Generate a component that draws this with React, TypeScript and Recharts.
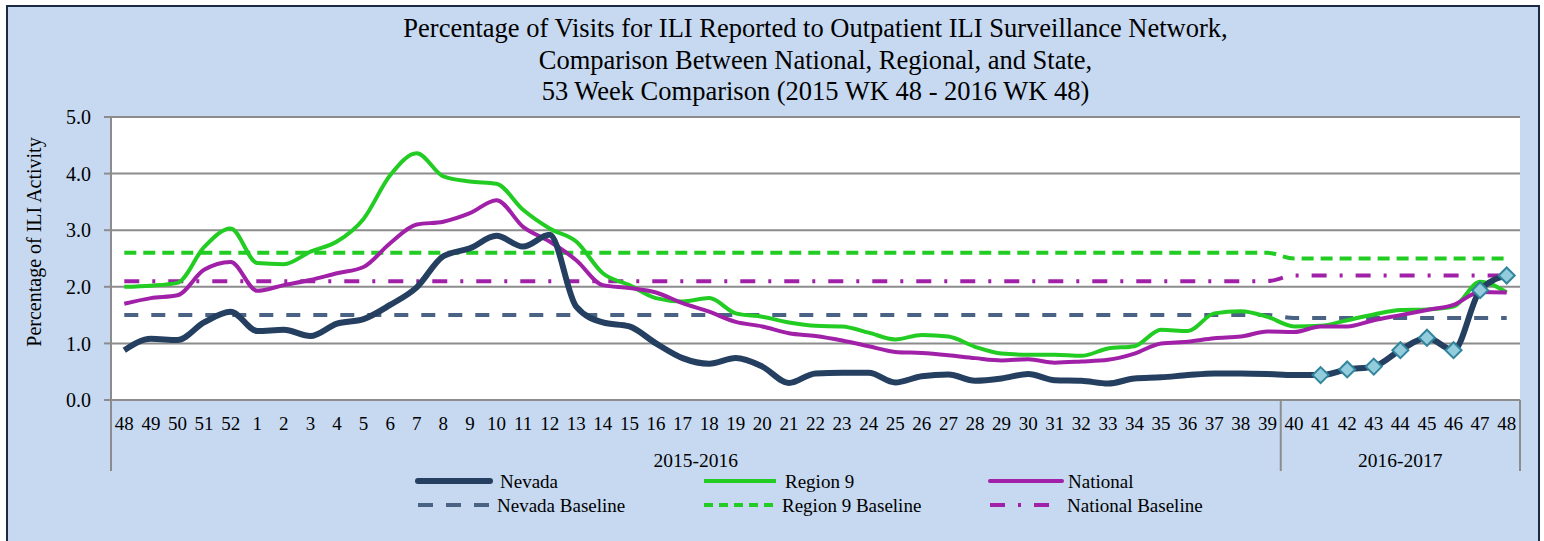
import React from "react";
import { LineChart, Line, XAxis, YAxis, CartesianGrid } from "recharts";

const weeks = [
  "48", "49", "50", "51", "52",
  "1", "2", "3", "4", "5", "6", "7", "8", "9", "10", "11", "12", "13", "14", "15", "16",
  "17", "18", "19", "20", "21", "22", "23", "24", "25", "26", "27", "28", "29", "30", "31",
  "32", "33", "34", "35", "36", "37", "38", "39",
  "40", "41", "42", "43", "44", "45", "46", "47", "48",
];
const seasons = ["2015-2016", "2016-2017"];
const seasonWeekCounts = [44, 9];

const nevada = [
  0.88, 1.08, 1.06, 1.37, 1.56,
  1.22, 1.24, 1.13, 1.35, 1.43, 1.68, 1.99, 2.54, 2.68, 2.9, 2.71, 2.92, 1.65, 1.37, 1.3, 1.0,
  0.74, 0.64, 0.74, 0.59, 0.3, 0.47, 0.48, 0.48, 0.31, 0.42, 0.45, 0.34, 0.38, 0.46, 0.35,
  0.34, 0.29, 0.38, 0.4, 0.44, 0.47, 0.47, 0.46,
  0.44, 0.44, 0.54, 0.59, 0.88, 1.1, 0.88, 1.94, 2.2,
];
const region9 = [
  2.0, 2.02, 2.07, 2.7, 3.03,
  2.42, 2.4, 2.62, 2.8, 3.2, 3.97, 4.36, 3.95, 3.86, 3.82, 3.36, 3.03, 2.8, 2.24, 2.03, 1.8,
  1.74, 1.8, 1.53, 1.47, 1.37, 1.31, 1.3, 1.19, 1.07, 1.15, 1.12, 0.94, 0.82, 0.8, 0.8,
  0.78, 0.91, 0.95, 1.24, 1.22, 1.53, 1.57, 1.47,
  1.3, 1.31, 1.41, 1.51, 1.59, 1.6, 1.65, 2.09, 1.9,
];
const national = [
  1.7, 1.8, 1.85, 2.3, 2.44,
  1.93, 2.03, 2.12, 2.24, 2.35, 2.77, 3.1, 3.15, 3.3, 3.53, 3.06, 2.8, 2.47, 2.03, 1.98, 1.9,
  1.71, 1.56, 1.38, 1.3, 1.18, 1.13, 1.05, 0.95, 0.85, 0.83, 0.79, 0.74, 0.7, 0.72, 0.66,
  0.68, 0.71, 0.82, 1.0, 1.03, 1.09, 1.12, 1.21,
  1.2, 1.3, 1.3, 1.41, 1.5, 1.59, 1.68, 1.91, 1.9,
];
// one baseline per season
const nevadaBaseline = [1.5, 1.45];
const region9Baseline = [2.6, 2.5];
const nationalBaseline = [2.1, 2.2];
// markers on Nevada start at 2016 week 41
const firstMarkedIndex = 45;
const yTicks = [0, 1, 2, 3, 4, 5];

const titleLines = [
  "Percentage of Visits for ILI Reported to Outpatient ILI Surveillance Network,",
  "Comparison Between National, Regional, and State,",
  "53 Week Comparison (2015 WK 48 - 2016 WK 48)",
];

const W = 1544;
const H = 541;
const PLOT_LEFT = 111;
const PLOT_RIGHT = 1520;
const PLOT_TOP = 117;
const PLOT_BOTTOM = 400;
const PLOT_W = PLOT_RIGHT - PLOT_LEFT;
const BAND = PLOT_W / weeks.length;
const FONT = "'Liberation Serif', 'Times New Roman', serif";

const C_NEVADA = "#243f60";
const C_NEVADA_BASE = "#4a6385";
const C_REGION = "#22cc22";
const C_NATIONAL = "#a020a8";
const C_GRID = "#8c8c8c";

const seasonStarts = seasonWeekCounts.map((_, s) =>
  seasonWeekCounts.slice(0, s).reduce((a, b) => a + b, 0)
);
const seasonIndexOf = (i: number) => {
  let s = 0;
  while (s < seasons.length - 1 && i >= seasonStarts[s + 1]) s++;
  return s;
};

const data = weeks.map((w, i) => {
  const s = seasonIndexOf(i);
  return {
    idx: i,
    week: w,
    nevada: nevada[i],
    region9: region9[i],
    national: national[i],
    nevadaBase: nevadaBaseline[s],
    region9Base: region9Baseline[s],
    nationalBase: nationalBaseline[s],
  };
});

// eslint-disable-next-line @typescript-eslint/no-explicit-any
const WeekTick = ({ x, payload }: any) => {
  const i = payload.value as number;
  const s = seasonStarts.indexOf(i);
  const isLast = i === weeks.length - 1;
  return (
    <g>
      <text x={x} y={PLOT_BOTTOM + 23} dy="0.35em" textAnchor="middle" fontSize={19} fontFamily={FONT} fill="#000">
        {weeks[i]}
      </text>
      {s >= 0 && (
        <>
          <line x1={x - BAND / 2} x2={x - BAND / 2} y1={PLOT_BOTTOM} y2={PLOT_BOTTOM + 71} stroke={C_GRID} strokeWidth={2} />
          <text
            x={x - BAND / 2 + (seasonWeekCounts[s] * BAND) / 2}
            y={PLOT_BOTTOM + 60}
            dy="0.35em"
            textAnchor="middle"
            fontSize={19.5}
            fontFamily={FONT}
            fill="#000"
          >
            {seasons[s]}
          </text>
        </>
      )}
      {isLast && (
        <line x1={x + BAND / 2} x2={x + BAND / 2} y1={PLOT_BOTTOM} y2={PLOT_BOTTOM + 71} stroke={C_GRID} strokeWidth={2} />
      )}
    </g>
  );
};

// eslint-disable-next-line @typescript-eslint/no-explicit-any
const DiamondDot = (props: any) => {
  const { cx, cy, index } = props;
  if (index < firstMarkedIndex || cx == null) return <g key={`d-${index}`} />;
  const r = 8;
  return (
    <path
      key={`d-${index}`}
      d={`M${cx},${cy - r} L${cx + r},${cy} L${cx},${cy + r} L${cx - r},${cy} Z`}
      fill="#93cddd"
      stroke="#31859c"
      strokeWidth={2}
    />
  );
};

const legendItems = [
  { label: "Nevada", color: C_NEVADA, width: 6, dash: undefined, cap: "round", x: 418, y: 481, tx: 500 },
  { label: "Region 9", color: C_REGION, width: 4, dash: undefined, cap: "butt", x: 704, y: 481, tx: 785 },
  { label: "National", color: C_NATIONAL, width: 4, dash: undefined, cap: "round", x: 990, y: 481, tx: 1068 },
  { label: "Nevada Baseline", color: C_NEVADA_BASE, width: 4, dash: "15 13", cap: "butt", x: 418, y: 505, tx: 497 },
  { label: "Region 9 Baseline", color: C_REGION, width: 4, dash: "9 6", cap: "butt", x: 704, y: 505, tx: 782 },
  { label: "National Baseline", color: C_NATIONAL, width: 4, dash: "15 13 3 13", cap: "butt", x: 990, y: 505, tx: 1067 },
];

export default function App() {
  return (
    <div style={{ position: "absolute", left: 0, top: 0, width: W, height: H, background: "#fff", overflow: "hidden" }}>
      <div
        style={{
          position: "absolute",
          left: 6,
          top: 5,
          width: W - 10,
          height: H,
          background: "#c6d9f1",
          border: "2px solid #1b2a45",
          boxSizing: "border-box",
        }}
      />
      <div style={{ position: "absolute", left: 0, top: 0 }}>
        <LineChart
          width={W}
          height={H}
          data={data}
          margin={{ top: PLOT_TOP, right: W - PLOT_RIGHT, bottom: H - PLOT_BOTTOM - 70, left: PLOT_LEFT - 60 }}
        >
          <CartesianGrid vertical={false} stroke={C_GRID} strokeWidth={2} fill="#ffffff" fillOpacity={1} />
          <XAxis
            dataKey="idx"
            type="category"
            scale="band"
            interval={0}
            height={70}
            tickLine={false}
            axisLine={{ stroke: C_GRID, strokeWidth: 2 }}
            tick={<WeekTick />}
          />
          <YAxis
            width={60}
            domain={[0, 5]}
            ticks={yTicks}
            tickFormatter={(v: number) => v.toFixed(1)}
            tick={{ fill: "#000", fontSize: 20, fontFamily: FONT }}
            tickLine={{ stroke: C_GRID, strokeWidth: 2 }}
            tickSize={7}
            tickMargin={13}
            axisLine={{ stroke: C_GRID, strokeWidth: 2 }}
          />
          <Line dataKey="nevadaBase" type="monotone" stroke={C_NEVADA_BASE} strokeWidth={4} strokeDasharray="14 13" dot={false} activeDot={false} isAnimationActive={false} />
          <Line dataKey="region9Base" type="monotone" stroke={C_REGION} strokeWidth={4} strokeDasharray="12 7" dot={false} activeDot={false} isAnimationActive={false} />
          <Line dataKey="nationalBase" type="monotone" stroke={C_NATIONAL} strokeWidth={4} strokeDasharray="15 13 3 13" dot={false} activeDot={false} isAnimationActive={false} />
          <Line dataKey="region9" type="monotone" stroke={C_REGION} strokeWidth={4} dot={false} activeDot={false} isAnimationActive={false} />
          <Line dataKey="national" type="monotone" stroke={C_NATIONAL} strokeWidth={4} dot={false} activeDot={false} isAnimationActive={false} />
          <Line dataKey="nevada" type="monotone" stroke={C_NEVADA} strokeWidth={6} dot={DiamondDot} activeDot={false} isAnimationActive={false} />
        </LineChart>
      </div>
      <svg width={W} height={H} style={{ position: "absolute", left: 0, top: 0, pointerEvents: "none" }}>
        {titleLines.map((t, i) => (
          <text key={t} x={(PLOT_LEFT + PLOT_RIGHT) / 2} y={37 + i * 31.5} textAnchor="middle" fontSize={26.5} fontFamily={FONT} fill="#000">
            {t}
          </text>
        ))}
        <text
          transform={`translate(34, 242) rotate(-90)`}
          textAnchor="middle"
          dy="0.35em"
          fontSize={20}
          fontFamily={FONT}
          fill="#000"
        >
          Percentage of ILI Activity
        </text>
        {legendItems.map((it) => (
          <g key={it.label}>
            <line
              x1={it.x}
              x2={it.x + 72}
              y1={it.y}
              y2={it.y}
              stroke={it.color}
              strokeWidth={it.width}
              strokeDasharray={it.dash}
              strokeLinecap={it.cap as "round" | "butt"}
            />
            <text x={it.tx} y={it.y} dy="0.35em" fontSize={19} fontFamily={FONT} fill="#000">
              {it.label}
            </text>
          </g>
        ))}
      </svg>
    </div>
  );
}
